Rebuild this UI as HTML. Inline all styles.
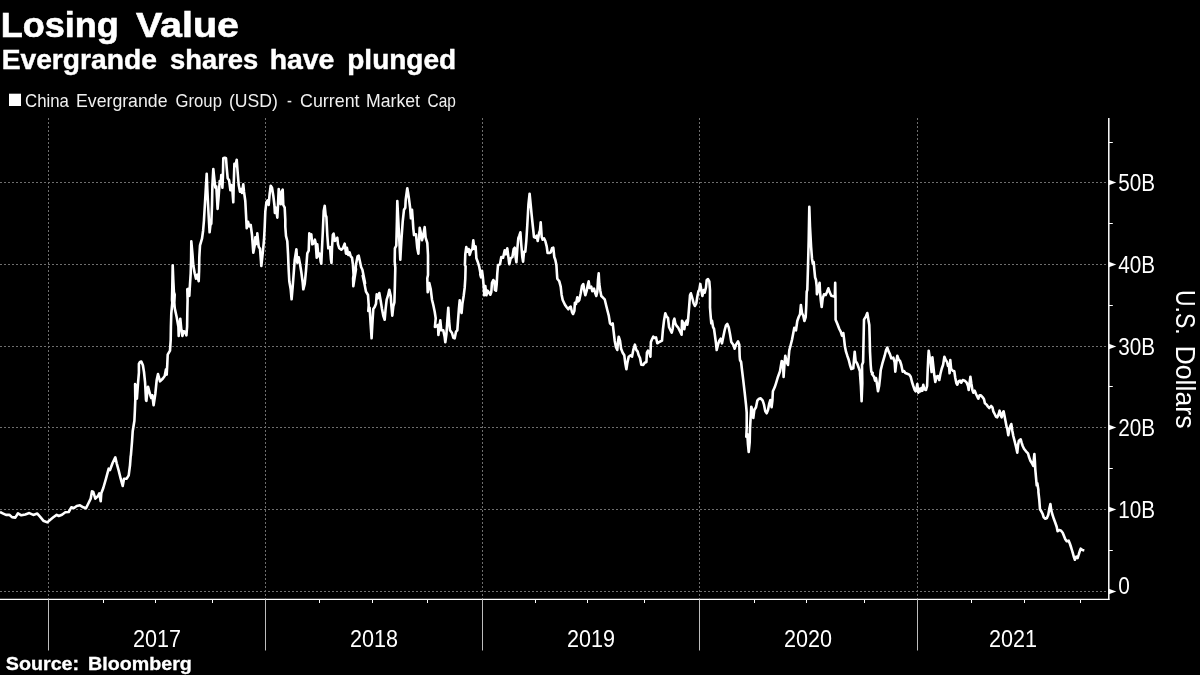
<!DOCTYPE html>
<html><head><meta charset="utf-8"><title>Losing Value</title>
<style>html,body{margin:0;padding:0;background:#000;}body{width:1200px;height:675px;overflow:hidden;}svg{display:block;will-change:transform;font-family:"Liberation Sans",sans-serif;}</style></head><body>
<svg width="1200" height="675" viewBox="0 0 1200 675">
<rect width="1200" height="675" fill="#000"/>
<g stroke="#6e6e6e" stroke-width="1" stroke-dasharray="2 2" fill="none">
<line x1="0" y1="591.5" x2="1108.8" y2="591.5"/>
<line x1="0" y1="509.5" x2="1108.8" y2="509.5"/>
<line x1="0" y1="427.5" x2="1108.8" y2="427.5"/>
<line x1="0" y1="346.5" x2="1108.8" y2="346.5"/>
<line x1="0" y1="264.5" x2="1108.8" y2="264.5"/>
<line x1="0" y1="182.5" x2="1108.8" y2="182.5"/>
<line x1="48.5" y1="118" x2="48.5" y2="599.4"/>
<line x1="265.5" y1="118" x2="265.5" y2="599.4"/>
<line x1="482.5" y1="118" x2="482.5" y2="599.4"/>
<line x1="699.5" y1="118" x2="699.5" y2="599.4"/>
<line x1="917.5" y1="118" x2="917.5" y2="599.4"/>
</g>
<g stroke="#fff" fill="none">
<line x1="0" y1="599.4" x2="1109.5" y2="599.4" stroke-width="1.4"/>
<line x1="1108.8" y1="118" x2="1108.8" y2="600.1" stroke-width="1.5"/>
<line x1="48.5" y1="599.4" x2="48.5" y2="650.5" stroke-width="1" stroke="#bdbdbd"/>
<line x1="265.5" y1="599.4" x2="265.5" y2="650.5" stroke-width="1" stroke="#bdbdbd"/>
<line x1="482.5" y1="599.4" x2="482.5" y2="650.5" stroke-width="1" stroke="#bdbdbd"/>
<line x1="699.5" y1="599.4" x2="699.5" y2="650.5" stroke-width="1" stroke="#bdbdbd"/>
<line x1="917.5" y1="599.4" x2="917.5" y2="650.5" stroke-width="1" stroke="#bdbdbd"/>
<line x1="103.5" y1="599.4" x2="103.5" y2="603" stroke-width="1"/>
<line x1="155.5" y1="599.4" x2="155.5" y2="603" stroke-width="1"/>
<line x1="212.5" y1="599.4" x2="212.5" y2="603" stroke-width="1"/>
<line x1="319.5" y1="599.4" x2="319.5" y2="603" stroke-width="1"/>
<line x1="372.5" y1="599.4" x2="372.5" y2="603" stroke-width="1"/>
<line x1="427.5" y1="599.4" x2="427.5" y2="603" stroke-width="1"/>
<line x1="535.5" y1="599.4" x2="535.5" y2="603" stroke-width="1"/>
<line x1="587.5" y1="599.4" x2="587.5" y2="603" stroke-width="1"/>
<line x1="644.5" y1="599.4" x2="644.5" y2="603" stroke-width="1"/>
<line x1="754.5" y1="599.4" x2="754.5" y2="603" stroke-width="1"/>
<line x1="806.5" y1="599.4" x2="806.5" y2="603" stroke-width="1"/>
<line x1="864.5" y1="599.4" x2="864.5" y2="603" stroke-width="1"/>
<line x1="971.5" y1="599.4" x2="971.5" y2="603" stroke-width="1"/>
<line x1="1024.5" y1="599.4" x2="1024.5" y2="603" stroke-width="1"/>
<line x1="1080.5" y1="599.4" x2="1080.5" y2="603" stroke-width="1"/>
<line x1="1108.8" y1="550.5" x2="1112.8" y2="550.5" stroke-width="1"/>
<line x1="1108.8" y1="468.5" x2="1112.8" y2="468.5" stroke-width="1"/>
<line x1="1108.8" y1="386.5" x2="1112.8" y2="386.5" stroke-width="1"/>
<line x1="1108.8" y1="305.5" x2="1112.8" y2="305.5" stroke-width="1"/>
<line x1="1108.8" y1="223.5" x2="1112.8" y2="223.5" stroke-width="1"/>
<line x1="1108.8" y1="142.5" x2="1112.8" y2="142.5" stroke-width="1"/>
</g>
<g fill="#fff">
<path d="M1108.8 588.8 L1116.3 591.5 L1108.8 594.2 Z"/>
<path d="M1108.8 506.8 L1116.3 509.5 L1108.8 512.2 Z"/>
<path d="M1108.8 424.8 L1116.3 427.5 L1108.8 430.2 Z"/>
<path d="M1108.8 343.8 L1116.3 346.5 L1108.8 349.2 Z"/>
<path d="M1108.8 261.8 L1116.3 264.5 L1108.8 267.2 Z"/>
<path d="M1108.8 179.8 L1116.3 182.5 L1108.8 185.2 Z"/>
</g>
<g fill="#fff" font-size="23.5">
<text x="1118.3" y="517.9" textLength="36.8" lengthAdjust="spacingAndGlyphs">10B</text>
<text x="1118.3" y="435.9" textLength="36.8" lengthAdjust="spacingAndGlyphs">20B</text>
<text x="1118.3" y="354.9" textLength="36.8" lengthAdjust="spacingAndGlyphs">30B</text>
<text x="1118.3" y="272.9" textLength="36.8" lengthAdjust="spacingAndGlyphs">40B</text>
<text x="1118.3" y="190.9" textLength="36.8" lengthAdjust="spacingAndGlyphs">50B</text>
<text x="1118.2" y="593.5" textLength="11.6" lengthAdjust="spacingAndGlyphs">0</text>
<text x="133.0" y="646.5" textLength="48" lengthAdjust="spacingAndGlyphs">2017</text>
<text x="350.0" y="646.5" textLength="48" lengthAdjust="spacingAndGlyphs">2018</text>
<text x="567.0" y="646.5" textLength="48" lengthAdjust="spacingAndGlyphs">2019</text>
<text x="784.0" y="646.5" textLength="48" lengthAdjust="spacingAndGlyphs">2020</text>
<text x="989.1" y="646.5" textLength="48" lengthAdjust="spacingAndGlyphs">2021</text>
</g>
<text x="0.66" y="36.7" font-size="35.3" font-weight="bold" fill="#fff" stroke="#fff" stroke-width="0.6" textLength="118.24" lengthAdjust="spacingAndGlyphs">Losing</text>
<text x="136.00" y="36.7" font-size="35.3" font-weight="bold" fill="#fff" stroke="#fff" stroke-width="0.6" textLength="103.00" lengthAdjust="spacingAndGlyphs">Value</text>
<text x="1.67" y="68.6" font-size="27.4" font-weight="bold" fill="#fff" stroke="#fff" stroke-width="0.45" textLength="155.27" lengthAdjust="spacingAndGlyphs">Evergrande</text>
<text x="170.00" y="68.6" font-size="27.4" font-weight="bold" fill="#fff" stroke="#fff" stroke-width="0.45" textLength="88.23" lengthAdjust="spacingAndGlyphs">shares</text>
<text x="269.66" y="68.6" font-size="27.4" font-weight="bold" fill="#fff" stroke="#fff" stroke-width="0.45" textLength="64.78" lengthAdjust="spacingAndGlyphs">have</text>
<text x="347.28" y="68.6" font-size="27.4" font-weight="bold" fill="#fff" stroke="#fff" stroke-width="0.45" textLength="108.89" lengthAdjust="spacingAndGlyphs">plunged</text>
<text x="25.00" y="107.0" font-size="17.8" font-weight="normal" fill="#f0f0f0" textLength="43.90" lengthAdjust="spacingAndGlyphs">China</text>
<text x="76.00" y="107.0" font-size="17.8" font-weight="normal" fill="#f0f0f0" textLength="91.48" lengthAdjust="spacingAndGlyphs">Evergrande</text>
<text x="175.60" y="107.0" font-size="17.8" font-weight="normal" fill="#f0f0f0" textLength="46.30" lengthAdjust="spacingAndGlyphs">Group</text>
<text x="229.01" y="107.0" font-size="17.8" font-weight="normal" fill="#f0f0f0" textLength="48.90" lengthAdjust="spacingAndGlyphs">(USD)</text>
<text x="287.00" y="107.0" font-size="17.8" font-weight="normal" fill="#f0f0f0" textLength="4.93" lengthAdjust="spacingAndGlyphs">-</text>
<text x="300.00" y="107.0" font-size="17.8" font-weight="normal" fill="#f0f0f0" textLength="59.54" lengthAdjust="spacingAndGlyphs">Current</text>
<text x="366.01" y="107.0" font-size="17.8" font-weight="normal" fill="#f0f0f0" textLength="53.93" lengthAdjust="spacingAndGlyphs">Market</text>
<text x="427.60" y="107.0" font-size="17.8" font-weight="normal" fill="#f0f0f0" textLength="28.30" lengthAdjust="spacingAndGlyphs">Cap</text>
<text x="5.80" y="669.6" font-size="18" font-weight="bold" fill="#fff" stroke="#fff" stroke-width="0.3" textLength="73.29" lengthAdjust="spacingAndGlyphs">Source:</text>
<text x="88.11" y="669.6" font-size="18" font-weight="bold" fill="#fff" stroke="#fff" stroke-width="0.3" textLength="103.78" lengthAdjust="spacingAndGlyphs">Bloomberg</text>
<text transform="translate(1175.6 290.03) rotate(90)" font-size="27.5" fill="#fff" textLength="44.64" lengthAdjust="spacingAndGlyphs">U.S.</text>
<text transform="translate(1175.6 345.46) rotate(90)" font-size="27.5" fill="#fff" textLength="83.07" lengthAdjust="spacingAndGlyphs">Dollars</text>
<rect x="9" y="93.7" width="12" height="12.3" fill="#fff"/>
<path d="M0.0 512.0 L2.7 513.3 L6.0 514.9 L9.3 514.7 L12.0 517.1 L15.3 517.6 L18.0 513.3 L21.3 515.3 L25.3 514.4 L29.3 513.1 L33.3 514.9 L37.3 513.6 L40.0 516.7 L43.3 520.7 L47.3 522.4 L50.0 520.0 L53.3 517.3 L56.7 514.9 L58.7 516.0 L62.0 514.7 L65.3 512.3 L68.7 512.0 L71.3 507.3 L74.0 508.0 L76.7 506.0 L80.0 505.3 L83.3 507.3 L86.0 508.3 L88.7 502.7 L90.7 498.7 L92.0 491.3 L93.3 492.0 L95.3 498.7 L98.0 496.0 L99.3 493.3 L100.7 501.3 L101.3 493.3 L103.3 488.0 L106.0 478.7 L108.7 468.7 L110.0 470.0 L112.7 462.7 L115.3 457.3 L116.7 463.3 L118.7 470.7 L120.7 478.7 L122.7 486.0 L124.0 478.7 L126.7 478.7 L128.7 475.3 L130.0 465.3 L130.7 456.0 L130.9 455.3 L132.0 442.0 L132.7 431.3 L134.4 420.7 L134.9 410.0 L135.3 400.0 L135.1 384.0 L136.0 386.0 L136.9 398.7 L138.0 383.3 L138.9 372.7 L138.9 364.0 L140.0 362.0 L141.3 361.6 L142.9 365.3 L144.0 372.0 L145.1 382.7 L146.0 400.0 L146.4 400.9 L147.1 394.0 L148.0 386.7 L150.0 394.0 L151.3 398.0 L152.3 395.3 L153.6 405.3 L155.3 394.0 L156.7 380.0 L158.0 374.0 L160.0 381.3 L162.7 378.7 L164.7 376.0 L166.0 369.3 L166.7 374.7 L167.3 364.0 L167.7 354.7 L170.0 350.7 L170.7 340.0 L170.9 326.7 L171.3 313.3 L172.3 302.7 L172.0 300.0 L172.3 286.7 L172.7 265.3 L173.3 280.0 L173.9 292.0 L174.7 294.7 L174.3 302.7 L174.7 308.0 L176.7 317.3 L178.4 326.7 L178.7 336.0 L179.3 326.7 L180.3 318.7 L181.3 329.3 L182.4 336.0 L183.7 331.3 L185.3 332.0 L186.4 335.3 L187.1 326.7 L187.3 313.3 L187.6 300.0 L187.3 289.3 L188.7 288.7 L189.3 296.0 L190.0 284.0 L190.7 273.3 L191.1 260.0 L191.3 241.3 L192.4 253.3 L193.3 265.3 L194.7 273.3 L196.0 278.7 L197.3 274.7 L198.7 281.3 L199.1 270.7 L199.3 257.3 L200.0 245.3 L202.0 238.7 L203.1 230.7 L204.0 220.0 L204.0 219.7 L205.1 201.0 L206.0 185.0 L206.7 173.7 L207.3 189.0 L208.3 209.0 L209.1 223.7 L209.6 232.3 L210.4 225.0 L211.3 223.7 L212.0 205.0 L212.4 185.0 L213.3 169.0 L214.4 179.7 L215.3 187.7 L216.3 186.3 L217.6 209.0 L218.7 195.7 L219.7 181.0 L220.7 183.7 L221.3 175.0 L222.4 187.7 L222.9 177.0 L223.3 158.3 L224.7 157.7 L226.0 158.3 L226.7 167.7 L227.7 178.3 L229.1 180.3 L230.4 190.3 L231.3 185.0 L232.3 189.0 L233.3 202.3 L233.7 185.0 L234.4 163.7 L235.3 166.3 L236.7 159.7 L237.6 171.7 L238.7 185.0 L240.0 191.7 L241.1 189.0 L242.0 193.0 L243.3 184.3 L244.0 191.7 L245.3 201.0 L246.0 214.3 L246.7 228.3 L248.0 221.7 L249.3 226.3 L250.7 225.0 L252.0 235.0 L253.3 252.7 L254.7 245.3 L255.3 237.3 L256.7 244.0 L257.3 233.3 L258.7 246.7 L260.0 248.7 L261.3 266.0 L262.7 253.3 L264.0 240.0 L264.7 226.7 L265.3 211.7 L266.4 202.3 L267.7 200.3 L268.7 205.0 L269.6 194.3 L270.7 185.7 L272.0 187.7 L273.3 195.7 L274.4 205.0 L274.9 213.0 L276.0 207.7 L277.3 217.7 L278.0 205.0 L278.7 189.0 L279.7 198.3 L280.7 204.3 L281.6 191.7 L282.7 189.7 L283.3 205.0 L284.7 207.7 L285.3 219.7 L285.3 226.7 L286.0 236.0 L287.3 241.3 L288.0 253.3 L288.7 270.7 L289.3 281.3 L290.7 289.3 L291.6 299.3 L292.7 286.7 L293.7 273.3 L294.7 260.0 L296.4 249.3 L297.3 262.7 L298.7 257.3 L300.0 264.0 L301.3 272.0 L302.7 282.7 L303.3 289.3 L304.7 284.0 L306.0 270.7 L307.3 253.3 L308.7 250.7 L309.3 233.3 L310.0 235.0 L311.3 234.3 L312.3 244.3 L313.3 243.7 L314.9 239.7 L315.7 243.0 L316.7 257.7 L317.3 244.3 L318.4 256.3 L319.7 253.7 L320.7 261.7 L321.3 263.7 L322.0 248.3 L322.9 229.7 L323.7 211.0 L324.7 205.7 L325.6 215.0 L326.4 217.0 L327.3 235.0 L328.3 248.3 L330.0 247.0 L330.9 259.0 L331.5 263.0 L332.0 248.3 L332.8 235.0 L333.6 233.7 L334.9 241.0 L336.3 239.0 L337.3 237.7 L338.0 244.3 L339.3 248.3 L341.3 249.7 L342.9 248.3 L344.7 243.7 L346.0 253.7 L346.9 247.7 L348.3 255.0 L349.6 252.3 L350.7 256.3 L352.0 257.7 L352.9 264.3 L353.6 275.0 L353.1 278.3 L353.3 286.3 L354.7 277.0 L356.0 269.0 L354.9 275.0 L356.0 264.3 L357.6 256.3 L358.7 255.7 L360.0 261.7 L361.1 267.0 L362.4 269.7 L363.7 276.3 L365.1 283.0 L362.7 275.7 L364.7 285.0 L366.0 291.7 L368.0 295.0 L368.7 305.0 L368.3 311.0 L369.6 307.7 L370.7 325.0 L371.6 338.3 L372.3 325.0 L373.3 309.0 L374.7 307.0 L376.0 303.7 L376.7 294.3 L378.0 298.3 L379.3 293.0 L380.7 301.0 L382.0 309.0 L383.3 315.7 L384.7 319.7 L385.6 309.0 L386.7 299.7 L388.0 295.7 L389.3 289.7 L390.7 295.7 L391.3 305.0 L392.3 315.7 L393.3 306.3 L394.4 302.3 L394.9 285.0 L395.3 267.7 L394.7 261.7 L394.9 248.3 L396.3 245.7 L396.9 221.7 L397.3 201.0 L398.7 228.3 L400.3 259.7 L401.3 241.7 L402.7 221.7 L404.0 209.7 L405.3 207.7 L405.7 199.7 L406.7 192.3 L407.3 188.3 L408.0 192.3 L408.9 198.3 L410.1 207.7 L410.9 218.3 L412.0 209.7 L412.7 219.0 L413.3 228.3 L414.0 235.0 L416.0 234.3 L417.3 248.3 L418.4 253.7 L419.3 235.0 L419.7 227.7 L420.7 232.3 L422.0 240.3 L423.3 235.0 L424.7 227.0 L425.6 237.7 L427.3 243.0 L428.0 255.0 L428.0 275.0 L427.3 278.3 L427.7 292.3 L429.3 283.0 L430.7 289.0 L432.0 299.7 L433.3 305.0 L434.7 311.7 L435.7 318.3 L434.9 327.0 L436.7 326.3 L438.0 325.0 L438.4 335.0 L439.3 327.7 L440.3 320.3 L441.3 330.3 L443.3 330.3 L444.7 337.0 L445.3 342.3 L446.4 334.3 L447.3 321.0 L448.3 307.7 L449.1 321.0 L450.0 330.3 L452.0 333.0 L453.3 337.7 L454.7 338.3 L456.0 331.7 L457.3 330.3 L458.0 321.0 L458.9 309.0 L459.7 300.3 L460.7 310.3 L461.6 313.0 L462.4 303.7 L463.7 295.7 L464.7 287.7 L465.3 278.3 L465.6 266.3 L464.9 265.0 L465.3 254.3 L466.3 247.0 L467.6 251.7 L468.7 249.0 L469.7 255.0 L471.1 250.3 L472.4 249.0 L473.3 240.3 L474.3 249.0 L475.6 246.3 L476.4 258.3 L477.7 261.7 L479.1 266.3 L480.4 273.0 L480.3 274.7 L481.1 277.3 L482.0 270.7 L482.9 277.3 L483.7 286.7 L484.3 295.3 L485.3 286.0 L486.4 295.3 L487.7 290.7 L489.1 292.7 L490.4 294.7 L491.3 292.0 L492.0 282.7 L493.3 280.0 L494.4 281.3 L494.9 290.0 L496.0 290.7 L496.7 284.0 L497.3 273.3 L498.0 265.3 L498.0 265.0 L500.0 264.3 L501.3 257.0 L503.1 257.7 L504.7 250.3 L506.0 254.3 L507.3 248.3 L508.4 257.0 L509.3 264.3 L510.7 258.3 L512.4 257.0 L513.7 249.0 L514.7 247.7 L515.6 257.0 L516.4 262.3 L517.3 249.0 L518.3 238.3 L519.3 235.7 L520.4 232.3 L521.3 245.0 L522.3 257.0 L523.1 261.7 L524.0 251.7 L525.3 251.7 L526.3 241.0 L527.3 225.0 L528.4 205.0 L529.6 193.7 L530.7 205.0 L531.6 214.3 L532.7 225.0 L534.0 237.0 L535.3 237.7 L536.7 235.7 L537.7 241.0 L539.1 233.0 L540.0 230.3 L540.7 222.3 L541.7 237.0 L542.7 239.7 L544.0 238.3 L545.3 241.0 L546.7 246.3 L547.6 253.0 L549.3 253.0 L550.7 252.3 L552.0 248.3 L553.3 247.7 L554.3 257.0 L555.3 259.7 L556.4 265.0 L556.9 273.0 L557.3 278.7 L559.3 281.3 L560.7 286.7 L561.6 294.7 L562.7 300.0 L564.0 302.7 L565.3 305.3 L566.7 307.3 L568.3 309.3 L569.6 307.3 L570.7 306.7 L572.0 312.0 L573.1 314.0 L574.4 310.7 L574.9 302.7 L576.0 304.0 L577.3 297.3 L578.4 301.3 L579.3 300.0 L580.7 293.3 L582.0 286.0 L583.3 284.0 L584.3 290.7 L585.3 295.3 L586.7 290.7 L587.7 285.3 L588.7 281.3 L589.6 288.0 L591.3 286.7 L592.3 291.3 L594.0 288.7 L595.3 293.3 L596.3 296.0 L597.3 292.0 L598.0 280.0 L598.7 273.3 L599.3 284.0 L600.3 290.7 L601.3 296.0 L602.7 297.3 L604.7 299.3 L606.0 304.7 L607.3 310.0 L608.7 315.3 L610.0 323.3 L611.3 324.7 L612.7 323.3 L613.6 331.3 L614.7 340.7 L616.0 347.3 L617.3 350.0 L618.0 342.0 L618.7 336.7 L620.0 340.7 L621.1 348.7 L622.7 352.7 L624.3 355.3 L625.3 363.3 L626.4 369.3 L627.3 363.3 L628.7 356.7 L630.7 355.3 L632.0 356.7 L633.3 350.0 L634.9 344.7 L636.3 350.0 L637.6 351.3 L638.7 355.3 L640.0 358.0 L641.3 364.7 L643.3 364.9 L644.7 362.7 L646.4 362.0 L646.9 352.7 L648.0 350.7 L649.3 352.7 L650.4 356.7 L650.9 342.0 L652.0 339.3 L653.3 336.7 L654.7 338.0 L656.0 337.3 L657.3 343.3 L659.3 342.0 L662.0 340.7 L662.9 330.0 L664.0 320.7 L665.3 313.3 L666.7 316.7 L668.0 318.0 L669.1 327.3 L670.4 330.0 L671.7 332.7 L672.7 328.7 L673.6 320.7 L674.4 318.7 L675.3 323.3 L676.7 326.0 L678.0 327.3 L679.3 330.0 L680.7 332.7 L681.6 334.7 L682.0 320.7 L683.3 323.3 L684.3 329.3 L685.3 323.3 L686.7 320.7 L687.3 324.7 L688.0 320.7 L689.1 307.3 L690.0 295.3 L690.9 293.3 L692.3 298.0 L693.6 303.3 L694.9 306.0 L696.3 303.3 L697.3 296.7 L698.4 291.3 L699.3 290.0 L700.3 284.0 L701.3 290.0 L702.4 296.0 L703.7 290.0 L704.7 292.7 L706.0 287.3 L706.7 280.0 L708.0 279.1 L709.3 281.3 L710.0 290.0 L710.0 307.3 L710.7 316.7 L711.3 323.3 L712.0 320.7 L713.1 327.3 L714.0 328.7 L714.9 335.3 L716.0 343.3 L716.7 350.0 L718.0 344.7 L719.3 340.7 L720.7 338.7 L722.0 343.3 L723.3 336.7 L724.7 330.0 L726.0 325.3 L727.3 324.0 L728.7 327.3 L730.0 334.0 L731.3 342.0 L733.3 344.7 L734.7 348.7 L736.0 344.7 L738.0 341.3 L739.3 344.7 L739.7 356.7 L740.0 360.0 L741.1 362.0 L742.0 370.0 L743.3 380.7 L744.7 392.7 L746.0 404.7 L746.7 412.7 L746.7 427.3 L746.3 436.7 L747.3 434.0 L748.0 444.7 L748.7 452.0 L749.7 442.0 L750.0 428.7 L750.7 416.7 L751.3 406.7 L752.7 411.3 L753.3 418.0 L754.3 410.0 L756.0 407.3 L757.3 400.7 L759.1 398.7 L760.7 398.3 L762.7 400.7 L764.0 404.7 L765.3 411.3 L766.7 413.3 L768.0 410.0 L769.3 403.3 L770.4 400.0 L771.6 407.3 L772.4 400.7 L772.9 391.3 L774.7 387.3 L776.0 383.3 L778.0 376.7 L780.0 371.3 L781.7 361.0 L782.9 362.3 L783.6 377.0 L784.4 365.0 L785.3 355.7 L786.7 362.3 L788.0 365.0 L788.7 357.0 L789.3 350.3 L790.7 345.0 L792.0 339.7 L793.3 333.0 L794.3 327.7 L796.0 330.3 L797.3 321.0 L798.7 317.0 L800.0 314.3 L800.9 305.0 L802.0 313.0 L803.3 315.7 L804.4 321.0 L805.7 317.0 L806.3 305.0 L806.7 291.7 L807.3 290.0 L808.0 266.7 L808.7 240.0 L809.3 206.7 L810.0 226.7 L811.1 246.7 L812.0 258.7 L812.9 264.0 L813.7 262.0 L814.3 269.3 L815.1 277.3 L816.0 280.0 L816.7 286.7 L816.9 294.3 L818.3 289.0 L819.6 282.7 L820.0 291.7 L820.9 301.0 L821.7 307.0 L822.7 298.3 L824.0 294.3 L825.7 295.0 L827.1 291.7 L828.4 288.3 L829.7 292.3 L831.3 295.7 L833.3 296.3 L834.8 296.7 L835.2 282.7 L835.5 298.3 L835.6 319.7 L837.3 323.7 L839.3 329.0 L840.7 331.7 L842.0 335.7 L843.3 333.0 L844.0 338.3 L844.9 346.3 L846.0 351.7 L847.3 355.7 L848.7 359.7 L850.0 365.0 L851.3 369.0 L853.3 368.3 L854.0 359.7 L854.7 351.7 L855.6 361.0 L857.3 363.7 L858.7 367.7 L860.0 371.7 L860.0 374.0 L860.9 386.0 L861.6 401.3 L862.3 383.3 L862.0 365.0 L863.1 362.3 L863.6 338.3 L864.0 319.7 L866.0 316.3 L867.3 313.0 L868.4 319.7 L869.3 325.0 L869.7 338.3 L870.0 351.7 L870.7 365.0 L871.3 371.7 L872.7 373.0 L872.0 374.0 L874.0 376.7 L875.1 380.7 L876.0 378.0 L877.3 386.0 L878.0 391.3 L879.1 386.0 L880.0 378.0 L880.7 370.3 L882.7 362.3 L884.7 355.7 L886.0 350.3 L887.3 347.7 L888.7 351.7 L890.0 354.3 L891.3 358.3 L893.3 357.7 L894.7 362.3 L895.3 371.7 L896.0 365.0 L897.3 355.7 L898.7 359.7 L900.0 361.0 L901.3 365.0 L902.7 371.7 L904.0 371.0 L905.3 373.0 L907.3 373.7 L909.3 374.6 L910.7 376.7 L912.0 382.0 L913.3 386.0 L914.7 390.0 L915.6 391.3 L916.4 388.7 L917.3 384.0 L918.3 392.7 L919.3 388.7 L920.4 391.3 L921.3 388.0 L922.3 390.7 L923.3 384.7 L924.4 389.3 L926.0 390.0 L927.1 386.0 L927.7 370.0 L928.3 356.7 L928.7 350.7 L929.6 356.7 L930.7 363.3 L931.6 372.0 L932.4 357.3 L933.3 366.0 L934.3 375.3 L935.3 382.0 L936.7 376.7 L938.0 376.0 L939.3 380.0 L940.4 374.0 L941.7 368.7 L943.1 364.7 L944.4 356.7 L945.7 360.0 L947.1 362.0 L948.0 366.0 L948.9 364.7 L949.6 373.3 L950.3 360.0 L951.1 368.7 L952.7 370.7 L954.3 371.3 L955.3 378.0 L956.4 383.3 L957.3 384.7 L958.7 381.3 L960.0 380.7 L961.3 382.7 L962.7 380.0 L964.7 380.7 L966.7 382.7 L968.0 386.0 L968.7 390.0 L969.7 382.0 L970.4 376.7 L971.3 383.3 L972.4 390.0 L973.3 392.7 L974.7 390.7 L976.0 394.0 L977.3 396.7 L978.3 398.7 L979.6 395.3 L980.9 395.3 L982.7 397.3 L984.0 399.3 L984.9 403.3 L986.7 404.7 L988.0 406.7 L989.3 408.0 L991.1 406.0 L992.4 407.3 L993.3 411.3 L994.7 414.0 L996.0 416.7 L997.3 417.3 L998.7 414.0 L999.6 410.7 L1000.7 415.3 L1001.7 417.3 L1002.7 412.7 L1003.6 411.3 L1004.4 415.3 L1005.3 420.0 L1006.7 427.3 L1007.3 428.7 L1008.3 435.3 L1009.3 429.3 L1010.4 426.0 L1011.3 424.0 L1012.3 430.7 L1013.3 436.0 L1014.7 441.3 L1016.0 446.7 L1017.3 452.7 L1018.0 445.3 L1018.9 440.7 L1020.7 439.3 L1021.6 442.7 L1022.7 446.0 L1024.0 448.7 L1026.0 451.3 L1028.0 453.3 L1029.1 457.3 L1030.4 460.7 L1032.0 463.3 L1033.3 466.0 L1034.0 457.3 L1034.4 454.0 L1034.9 461.3 L1035.3 469.3 L1036.0 477.3 L1036.7 485.3 L1037.3 483.3 L1038.4 490.0 L1038.4 492.0 L1039.3 500.0 L1040.0 509.3 L1041.3 511.3 L1042.7 514.0 L1043.7 517.3 L1045.3 518.7 L1046.9 518.0 L1048.3 514.7 L1049.3 508.7 L1050.4 504.0 L1051.3 510.7 L1052.7 515.3 L1054.0 519.3 L1055.3 522.7 L1056.7 526.7 L1057.6 531.3 L1059.3 530.0 L1061.1 530.7 L1062.7 532.7 L1064.0 536.0 L1065.3 539.3 L1066.7 541.3 L1068.7 540.7 L1070.0 544.0 L1071.3 548.0 L1072.7 552.7 L1074.0 557.3 L1074.9 559.7 L1076.3 556.7 L1077.6 558.0 L1078.7 554.7 L1079.7 551.3 L1080.7 548.7 L1082.4 550.0 L1084.3 550.4" fill="none" stroke="#fff" stroke-width="2.6" stroke-linejoin="round" stroke-linecap="butt"/>
</svg></body></html>
